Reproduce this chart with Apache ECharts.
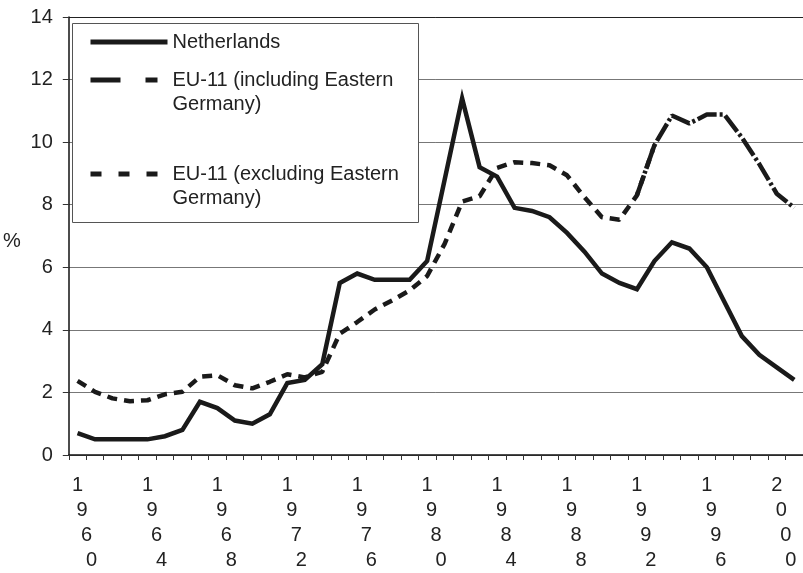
<!DOCTYPE html>
<html>
<head>
<meta charset="utf-8">
<script src="https://cdn.jsdelivr.net/npm/echarts@6/dist/echarts.min.js"></script>
<style>html,body{margin:0;padding:0;background:#fff}#c{width:803px;height:573px}</style>
</head>
<body>
<div id="c"></div>
<script>
// Years 1960-2001
const years = [];
for (let y = 1960; y <= 2001; y++) years.push(String(y));

const netherlands = [0.7,0.5,0.5,0.5,0.5,0.6,0.8,1.7,1.5,1.1,
  1.0,1.3,2.3,2.4,2.9,5.5,5.8,5.6,5.6,5.6,
  6.2,8.8,11.4,9.2,8.9,7.9,7.8,7.6,7.1,6.5,
  5.8,5.5,5.3,6.2,6.8,6.6,6.0,4.9,3.8,3.2,
  2.8,2.4];

const euExcl = [2.37,2.02,1.81,1.72,1.75,1.94,2.02,2.5,2.55,2.23,
  2.13,2.34,2.58,2.48,2.66,3.88,4.25,4.65,4.94,5.26,
  5.72,6.75,8.1,8.27,9.18,9.36,9.33,9.26,8.94,8.24,
  7.6,7.52,8.3,9.9,null,null,null,null,null,null,
  null,null];

const euIncl = [null,null,null,null,null,null,null,null,null,null,
  null,null,null,null,null,null,null,null,null,null,
  null,null,null,null,null,null,null,null,null,null,
  null,null,8.3,9.9,10.85,10.6,10.88,10.88,10.15,9.3,
  8.35,7.9];

const yTicks = [0, 2, 4, 6, 8, 10, 12, 14];

const nameNL = 'Netherlands';
const nameIncl = 'EU-11 (including Eastern Germany)';
const nameExcl = 'EU-11 (excluding Eastern Germany)';

const FONT = 'Liberation Sans, Arial, sans-serif';
const INK = '#1a1a1a';
const TXT = '#222';

function legendLabel(n) {
  if (n === nameNL) return '{t|' + n + '}';
  const parts = n.split(' Germany');
  const l1 = parts[0];
  if (n === nameIncl) return '{e1|\u00a0}\n{t|' + l1 + '}\n{t|Germany)}';
  return '{e2|\u00a0}\n{t|' + l1 + '}\n{t|Germany)}\n{e3|\u00a0}';
}

const chart = echarts.init(document.getElementById('c'), null, {renderer: 'canvas'});
chart.setOption({
  animation: false,
  backgroundColor: '#fff',
  textStyle: {fontFamily: FONT, color: TXT},
  grid: {left: 65, right: -2, top: 17, bottom: 118, containLabel: false},
  xAxis: {
    type: 'category',
    data: years,
    boundaryGap: true,
    axisLine: {lineStyle: {color: '#111', width: 1.5}},
    axisTick: {show: true, interval: 0, length: 5, lineStyle: {color: '#333'}},
    axisLabel: {
      interval: 3,
      margin: 18,
      color: TXT,
      fontFamily: FONT,
      fontSize: 20,
      lineHeight: 25,
      align: 'center',
      formatter: function (v) {
        const d = v.split('');
        return '{a|' + d[0] + '}\n{b|' + d[1] + '}\n{c|' + d[2] + '}\n{d|' + d[3] + '}';
      },
      rich: {
        a: {fontSize: 20, lineHeight: 25, fontFamily: FONT, color: TXT, padding: [0, 0, 0, 0]},
        b: {fontSize: 20, lineHeight: 25, fontFamily: FONT, color: TXT, padding: [0, 0, 0, 9]},
        c: {fontSize: 20, lineHeight: 25, fontFamily: FONT, color: TXT, padding: [0, 0, 0, 18]},
        d: {fontSize: 20, lineHeight: 25, fontFamily: FONT, color: TXT, padding: [0, 0, 0, 28]}
      }
    },
    splitLine: {show: false}
  },
  yAxis: {
    type: 'value',
    min: yTicks[0], max: yTicks[yTicks.length - 1], interval: 2,
    name: '{p|%}',
    nameLocation: 'middle',
    nameRotate: 0,
    nameGap: 48,
    nameTextStyle: {
      fontSize: 20, color: TXT, fontFamily: FONT,
      rich: {p: {fontSize: 20, lineHeight: 24, color: TXT, fontFamily: FONT, padding: [10, 0, 0, 0]}}
    },
    axisLine: {show: true, lineStyle: {color: '#111', width: 1.5}},
    axisTick: {show: true, length: 6, lineStyle: {color: '#333'}},
    axisLabel: {margin: 16, fontSize: 20, color: TXT, fontFamily: FONT},
    splitLine: {show: true, lineStyle: {color: ['#777', '#777', '#777', '#777', '#777', '#777', '#777', '#222'], width: 1}}
  },
  legend: {
    orient: 'vertical',
    left: 73, top: 23,
    padding: [7, 15, 0, 15],
    itemGap: -10,
    itemWidth: 77,
    itemHeight: 14,
    z: 6,
    itemStyle: {opacity: 0, borderWidth: 0},
    textStyle: {
      fontSize: 20, lineHeight: 24, color: TXT, fontFamily: FONT,
      rich: {
        t: {fontSize: 20, lineHeight: 24, color: TXT, fontFamily: FONT},
        e1: {fontSize: 20, lineHeight: 24},
        e2: {fontSize: 20, lineHeight: 56},
        e3: {fontSize: 20, lineHeight: 32}
      }
    },
    formatter: legendLabel,
    data: [
      {name: nameNL, lineStyle: {type: 'solid', width: 5}},
      {name: nameIncl, lineStyle: {type: [30, 25, 12, 25], width: 5}},
      {name: nameExcl, lineStyle: {type: [11, 17], width: 5}}
    ]
  },
  graphic: [{
    type: 'rect',
    z: 5,
    shape: {x: 72.5, y: 23.5, width: 346, height: 199},
    style: {fill: '#fff', stroke: '#555', lineWidth: 1}
  }],
  series: [
    {
      name: nameNL, type: 'line', data: netherlands, symbol: 'none', z: 3,
      lineStyle: {color: INK, width: 4.5, type: 'solid', join: 'miter'},
      itemStyle: {color: INK}
    },
    {
      name: nameIncl, type: 'line', data: euIncl, symbol: 'none', z: 2, connectNulls: false,
      lineStyle: {color: INK, width: 4.5, type: [20, 3, 3, 3]},
      itemStyle: {color: INK}
    },
    {
      name: nameExcl, type: 'line', data: euExcl, symbol: 'none', z: 2, connectNulls: false,
      lineStyle: {color: INK, width: 4.5, type: [10, 7]},
      itemStyle: {color: INK}
    }
  ]
});
</script>
</body>
</html>
